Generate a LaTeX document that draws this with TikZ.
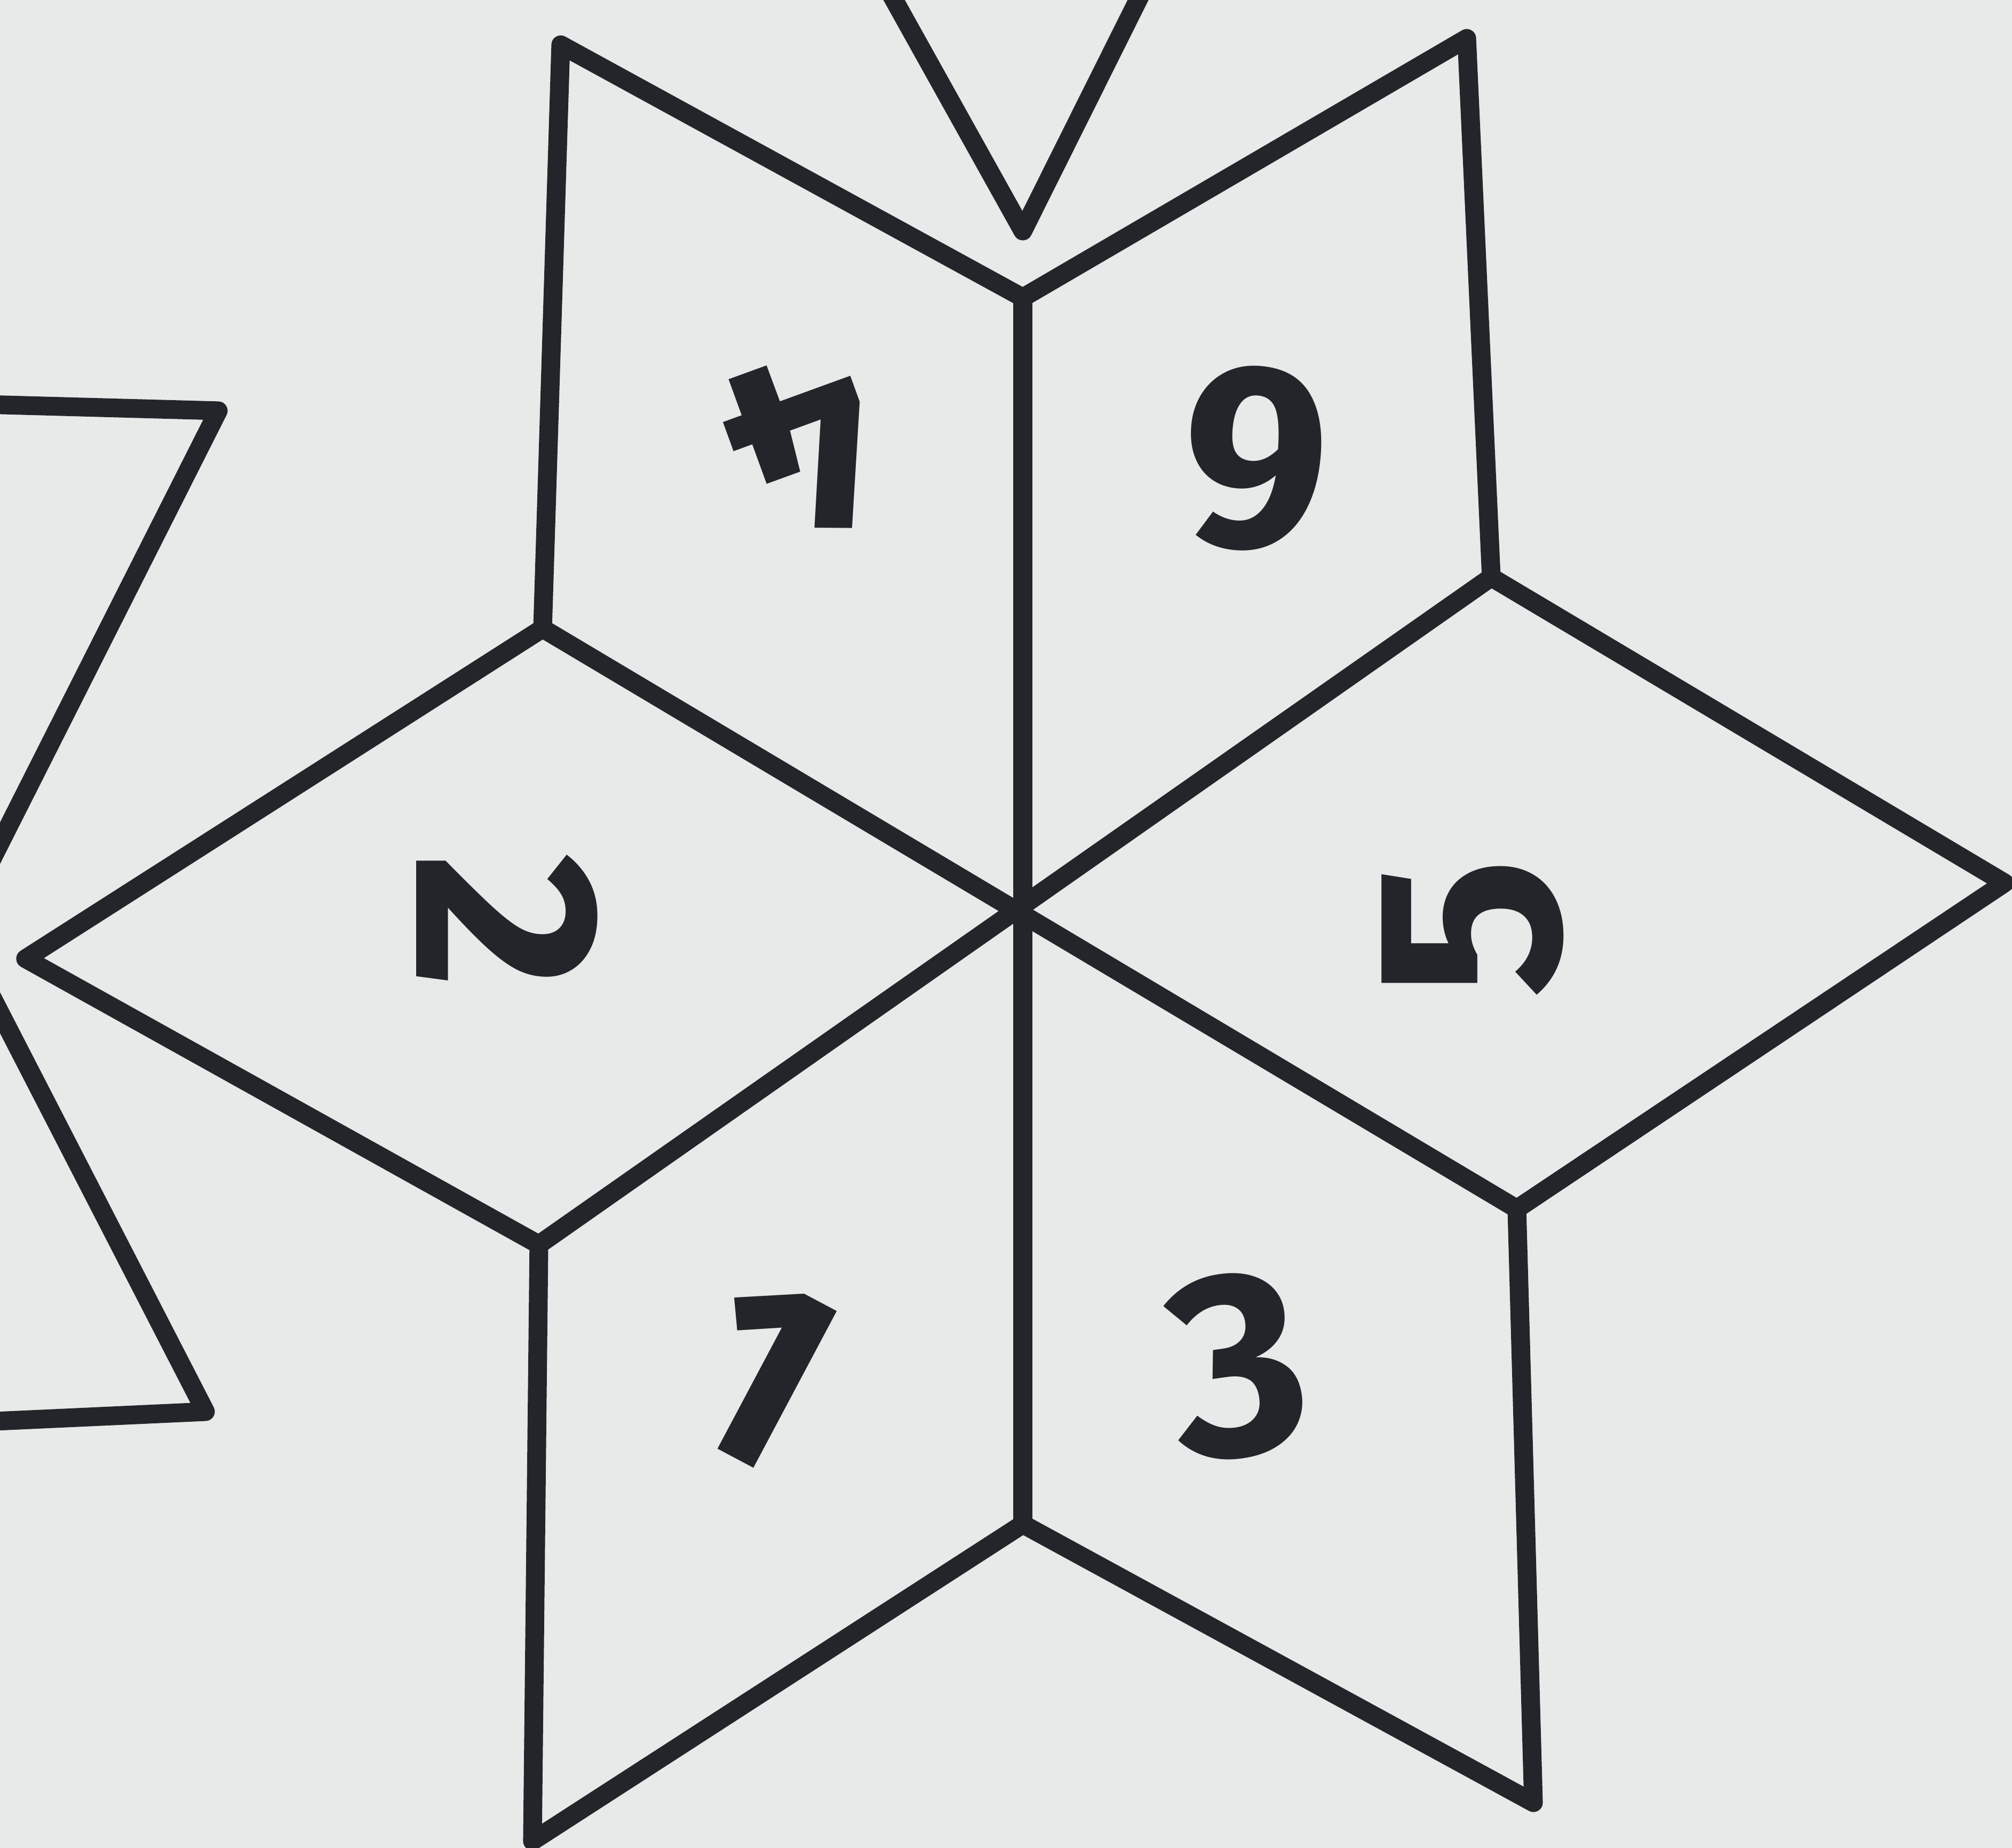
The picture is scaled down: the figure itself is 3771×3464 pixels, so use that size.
\documentclass[tikz,border=0pt]{standalone}
\usepackage{fontspec}
\setmainfont{Fira Sans}
\definecolor{paper}{RGB}{232,234,233}
\definecolor{ink}{RGB}{35,37,42}
\begin{document}
\begin{tikzpicture}[x=0.01cm,y=-0.01cm,
  edge/.style={draw=ink,line width=10pt,line join=round,line cap=round},
  digit/.style={text=ink,font=\fontsize{140}{140}\selectfont\bfseries,inner sep=0pt}]
\useasboundingbox (0,0) rectangle (3771,3464);
\fill[paper] (0,0) rectangle (3771,3464);
\clip (0,0) rectangle (3771,3464);
% star vertices
\coordinate (C) at (1912,1712);
\coordinate (T) at (1917,558);
\coordinate (UL) at (1051,84);
\coordinate (L1) at (1017,1178);
\coordinate (W) at (48,1797);
\coordinate (L2) at (1010,2333);
\coordinate (BL) at (998,3451);
\coordinate (B) at (1917,2857);
\coordinate (BR) at (2874,3379);
\coordinate (R2) at (2843,2266);
\coordinate (E) at (3757,1655);
\coordinate (R1) at (2795,1082);
\coordinate (UR) at (2749,72);
% top V
\coordinate (V1) at (1659,-30);
\coordinate (V2) at (1917,433);
\coordinate (V3) at (2148,-30);
% left partial shape
\coordinate (P1) at (-30,758);
\coordinate (P2) at (409,770);
\coordinate (P3) at (-30,1640);
\coordinate (P4) at (-30,1840);
\coordinate (P5) at (385,2646);
\coordinate (P6) at (-30,2665);
\draw[edge] (T) -- (UL) -- (L1) -- (W) -- (L2) -- (BL) -- (B) -- (BR) -- (R2) -- (E) -- (R1) -- (UR) -- cycle;
\draw[edge] (T) -- (B);
\draw[edge] (L1) -- (R2);
\draw[edge] (L2) -- (R1);
\draw[edge] (V1) -- (V2) -- (V3);
\draw[edge] (P1) -- (P2) -- (P3);
\draw[edge] (P4) -- (P5) -- (P6);
% digits
\node[digit,rotate=200] (d4) at (1510,840) {4};
\node[digit,rotate=175] (d6) at (2355,860) {6};
\node[digit,rotate=90] (d5) at (2760,1740) {5};
\node[digit,rotate=-90] (d2) at (950,1727) {2};
\node[digit,rotate=-28] (d1) at (1425,2570) {1};
\node[digit,rotate=8] (d3) at (2320,2560) {3};
\end{tikzpicture}
\end{document}
